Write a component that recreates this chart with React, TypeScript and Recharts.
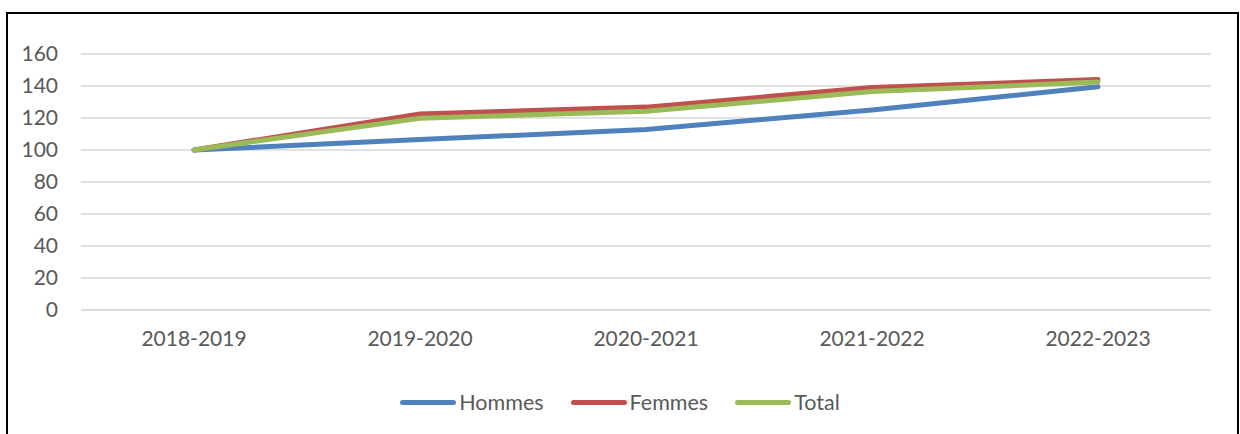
import React from 'react';
import { LineChart, Line, XAxis, YAxis, CartesianGrid, Legend } from 'recharts';

const categories = ['2018-2019', '2019-2020', '2020-2021', '2021-2022', '2022-2023'];
const hommes = [100, 106.5, 112.8, 125, 139.5];
const femmes = [100, 122.5, 126.8, 139, 144];
const total = [100, 119.8, 124.2, 136.5, 142.5];
const yTicks = [0, 20, 40, 60, 80, 100, 120, 140, 160];

const seriesDefs = [
  { key: 'Hommes', color: '#4F81BD', values: hommes },
  { key: 'Femmes', color: '#C0504D', values: femmes },
  { key: 'Total', color: '#9BBB59', values: total },
];

const data = categories.map((c, i) => {
  const row: Record<string, string | number> = { name: c };
  seriesDefs.forEach((s) => {
    row[s.key] = s.values[i];
  });
  return row;
});

const FONT = 'Lato, "Open Sans", sans-serif';
const TEXT = '#595959';

const renderLegend = () => (
  <div style={{ display: 'flex', justifyContent: 'center', alignItems: 'center', fontFamily: FONT, fontSize: 21.5, color: TEXT }}>
    {seriesDefs.map((s, i) => (
      <div key={s.key} style={{ display: 'flex', alignItems: 'center', marginLeft: i === 0 ? 0 : 27 }}>
        <div style={{ width: 56, height: 5, borderRadius: 3, background: s.color, marginRight: 3 }} />
        <span>{s.key}</span>
      </div>
    ))}
  </div>
);

export default function App() {
  return (
    <div style={{ position: 'absolute', left: 0, top: 0, width: 1240, height: 434, overflow: 'hidden', background: '#fff' }}>
      <div style={{ position: 'absolute', left: 6, top: 12, width: 1229, height: 440, border: '2px solid #000' }} />
      <div style={{ position: 'absolute', left: 0, top: 0 }}>
        <LineChart width={1240} height={434} data={data} margin={{ top: 54, right: 29, bottom: 74, left: 21 }}>
          <CartesianGrid vertical={false} stroke="#D9D9D9" strokeWidth={1.5} />
          <XAxis
            dataKey="name"
            padding={{ left: 113, right: 113 }}
            axisLine={{ stroke: '#D9D9D9', strokeWidth: 1.5 }}
            tickLine={false}
            tickMargin={15}
            height={50}
            tick={{ fill: TEXT, fontSize: 21, fontFamily: FONT }}
          />
          <YAxis
            domain={[0, 160]}
            ticks={yTicks}
            axisLine={false}
            tickLine={false}
            width={60}
            tickMargin={17}
            tick={{ fill: TEXT, fontSize: 21, fontFamily: FONT }}
          />
          <Legend
            layout="horizontal"
            verticalAlign="middle"
            align="center"
            wrapperStyle={{ top: 389, left: 0, width: 1240 }}
            content={renderLegend}
          />
          {seriesDefs.map((s) => (
            <Line
              key={s.key}
              type="linear"
              dataKey={s.key}
              stroke={s.color}
              strokeWidth={5}
              strokeLinecap="round"
              strokeLinejoin="round"
              dot={false}
              activeDot={false}
              isAnimationActive={false}
            />
          ))}
        </LineChart>
      </div>
    </div>
  );
}
